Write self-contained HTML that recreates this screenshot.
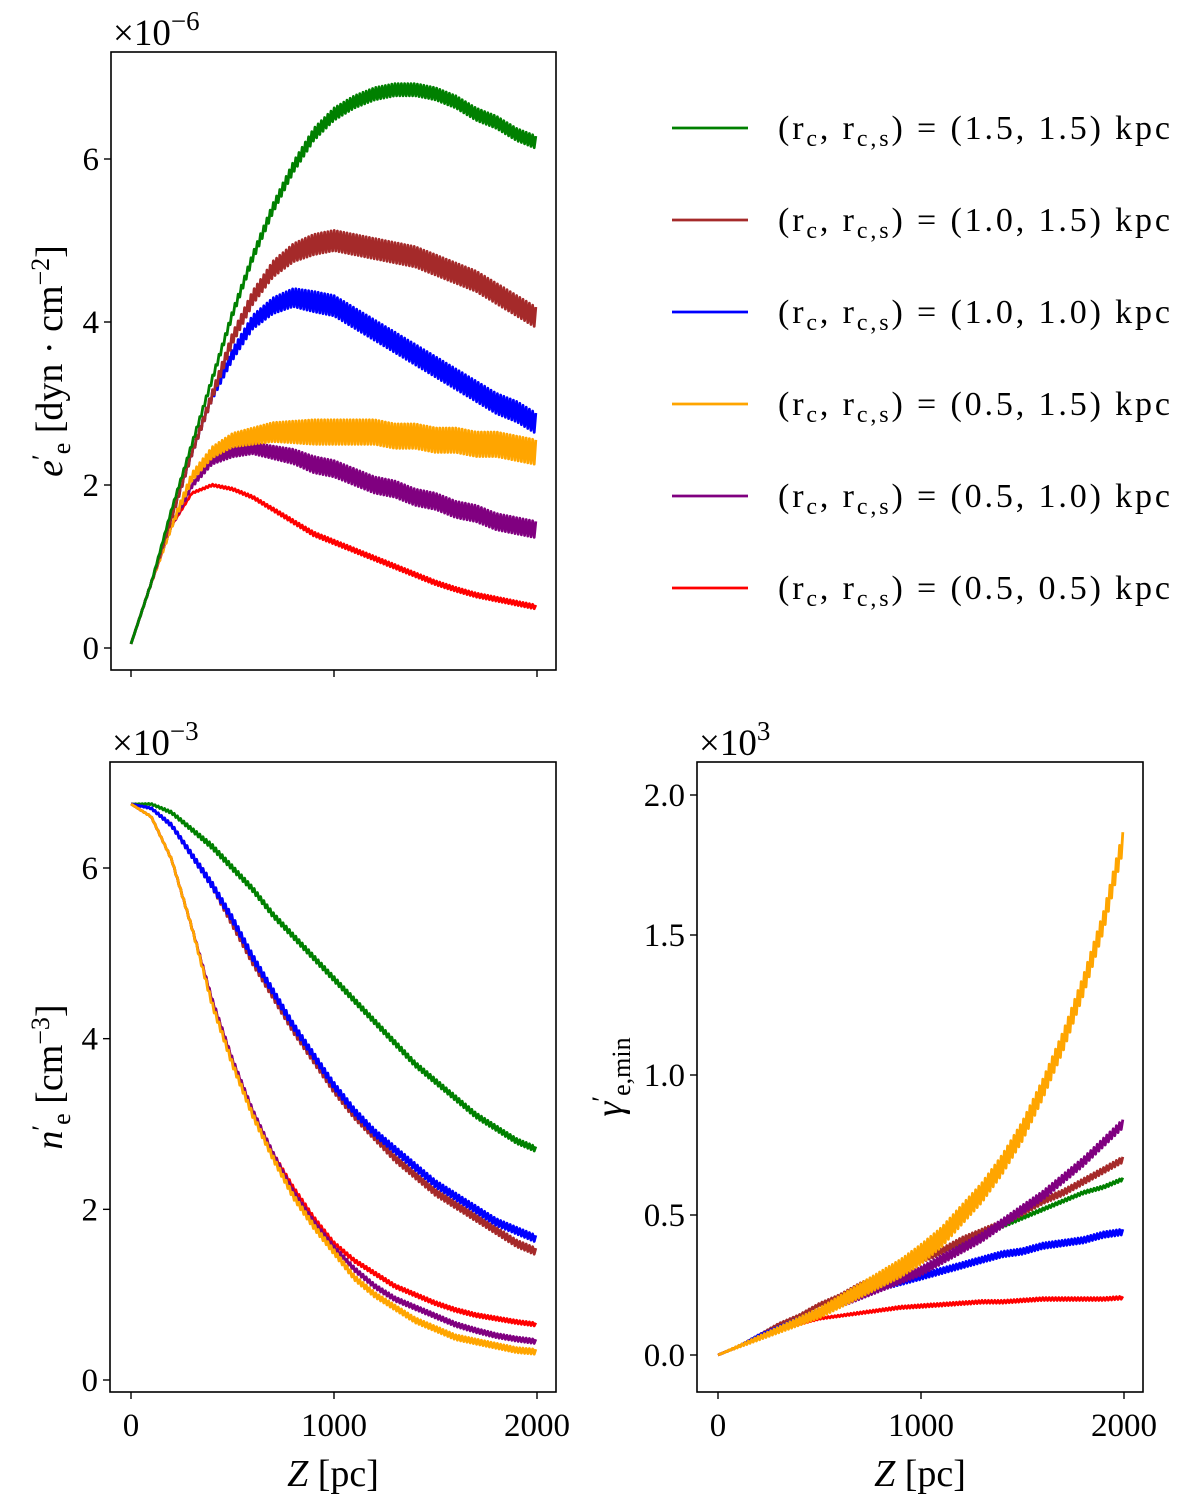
<!DOCTYPE html>
<html><head><meta charset="utf-8"><style>
body{margin:0;background:#fff}
svg{display:block;font-family:"Liberation Serif",serif}
</style></head><body>
<svg id="fig" width="1200" height="1503" viewBox="0 0 1200 1503"></svg>
<script>
const zGrid=[0,100,200,300,400,500,600,700,800,900,1000,1100,1200,1300,1400,1500,1600,1700,1800,1900,2000];
const seriesNames=["(1.5, 1.5)","(1.0, 1.5)","(1.0, 1.0)","(0.5, 1.5)","(0.5, 1.0)","(0.5, 0.5)"];
const seriesColors=["green","#a52a2a","blue","orange","purple","red"];
// top: e'_e (x1e-6)
const eGreen=[0.05,0.8,1.7,2.5,3.3,4.1,4.8,5.4,5.9,6.3,6.55,6.7,6.8,6.85,6.85,6.8,6.7,6.55,6.45,6.3,6.2];
const eBrown=[0.05,0.8,1.6,2.4,3.1,3.8,4.3,4.65,4.85,4.95,5.0,4.95,4.9,4.85,4.8,4.7,4.6,4.5,4.35,4.2,4.05];
const eBlue=[0.05,0.8,1.6,2.4,3.1,3.6,4.0,4.2,4.3,4.25,4.2,4.05,3.9,3.75,3.6,3.45,3.3,3.15,3.0,2.9,2.75];
const eOrange=[0.05,0.8,1.5,2.1,2.4,2.55,2.6,2.65,2.65,2.65,2.65,2.65,2.65,2.6,2.6,2.55,2.55,2.5,2.5,2.45,2.4];
const ePurple=[0.05,0.8,1.5,2.0,2.3,2.4,2.45,2.4,2.35,2.25,2.2,2.1,2.0,1.95,1.85,1.8,1.7,1.65,1.55,1.5,1.45];
const eRed=[0.05,0.8,1.5,1.9,2.0,1.95,1.85,1.7,1.55,1.4,1.3,1.2,1.1,1.0,0.9,0.8,0.72,0.65,0.6,0.55,0.5];
const eNoise=[0.15,0.25,0.25,0.3,0.2,0.05];
// bottom-left: n'_e (x1e-3)
const nGreen=[6.75,6.75,6.65,6.45,6.25,6.0,5.75,5.45,5.2,4.95,4.7,4.45,4.2,3.95,3.7,3.5,3.3,3.1,2.95,2.8,2.7];
const nBrown=[6.75,6.7,6.5,6.15,5.8,5.35,4.9,4.5,4.1,3.75,3.4,3.1,2.85,2.6,2.4,2.2,2.05,1.9,1.75,1.6,1.5];
const nBlue=[6.75,6.7,6.5,6.15,5.8,5.4,4.95,4.55,4.15,3.8,3.45,3.15,2.9,2.7,2.5,2.3,2.15,2.0,1.85,1.75,1.65];
const nOrange=[6.75,6.6,6.1,5.3,4.4,3.7,3.1,2.6,2.15,1.8,1.5,1.2,1.0,0.85,0.7,0.6,0.5,0.45,0.4,0.35,0.33];
const nPurple=[6.75,6.6,6.1,5.3,4.45,3.75,3.15,2.65,2.2,1.85,1.55,1.3,1.1,0.95,0.85,0.75,0.65,0.58,0.52,0.48,0.45];
const nRed=[6.75,6.6,6.1,5.3,4.45,3.75,3.15,2.65,2.25,1.9,1.6,1.4,1.25,1.1,1.0,0.9,0.82,0.76,0.72,0.68,0.65];
const nNoise=[0.06,0.08,0.08,0.06,0.05,0.04];
// bottom-right: gamma'_e,min (x1e3)
const gGreen=[0,0.03,0.07,0.11,0.14,0.18,0.21,0.25,0.28,0.31,0.34,0.37,0.4,0.43,0.46,0.49,0.52,0.55,0.58,0.6,0.63];
const gBrown=[0,0.03,0.07,0.11,0.14,0.18,0.21,0.25,0.28,0.31,0.34,0.37,0.41,0.44,0.47,0.51,0.55,0.58,0.62,0.66,0.7];
const gBlue=[0,0.03,0.07,0.1,0.13,0.16,0.19,0.22,0.24,0.26,0.28,0.3,0.32,0.34,0.36,0.37,0.39,0.4,0.41,0.43,0.44];
const gOrange=[0,0.03,0.06,0.09,0.12,0.15,0.19,0.23,0.27,0.31,0.36,0.42,0.5,0.58,0.68,0.8,0.95,1.12,1.32,1.55,1.85];
const gPurple=[0,0.03,0.06,0.09,0.12,0.15,0.18,0.21,0.24,0.27,0.3,0.34,0.38,0.42,0.47,0.52,0.57,0.63,0.69,0.76,0.83];
const gRed=[0,0.03,0.06,0.09,0.11,0.13,0.14,0.15,0.16,0.17,0.175,0.18,0.185,0.19,0.19,0.195,0.2,0.2,0.2,0.2,0.205];
const gNoise=[0.01,0.02,0.02,0.07,0.03,0.01];
const xTicks=[0,1000,2000];
const eTicks=[0,2,4,6];
const nTicks=[0,2,4,6];
const gTicks=[0,0.5,1.0,1.5,2.0];
const gTickLabels=["0.0","0.5","1.0","1.5","2.0"];

const NS="http://www.w3.org/2000/svg";
const svg=document.getElementById('fig');
function el(tag,attrs,parent,text){const e=document.createElementNS(NS,tag);for(const k in attrs)e.setAttribute(k,attrs[k]);if(text!==undefined)e.textContent=text;(parent||svg).appendChild(e);return e;}

function panel(cfg){
  const g=el('g',{});
  
  
  const X=z=>cfg.x0+(z-0)*(cfg.x2000-cfg.x0)/2000;
  const Y=v=>cfg.y0+(v-cfg.v0)*(cfg.yTop-cfg.y0)/(cfg.vTop-cfg.v0);
  cfg.order.forEach(i=>{
    const data=cfg.series[i];
    let d="";let k=0;
    for(let px=X(0);px<=X(2000)+0.01;px+=1.6){
      const z=(px-X(0))/(X(2000)-X(0))*2000;
      const j=Math.min(19,Math.floor(z/100));const t=(z-zGrid[j])/100;
      let v=data[j]*(1-t)+data[j+1]*t;
      const ramp=Math.min(1,z/cfg.rampZ);
      v+=(k%2?1:-1)*cfg.noise[i]*ramp*0.5;
      d+=(k?"L":"M")+px.toFixed(1)+","+Y(v).toFixed(1);k++;
    }
    const p=el('path',{d:d,fill:'none',stroke:seriesColors[i],'stroke-width':2.8,'stroke-linejoin':'round'},g);
    
    
  });
  const fr=el('rect',{x:cfg.bx,y:cfg.by,width:cfg.bw,height:cfg.bh,fill:'none',stroke:'#000','stroke-width':1.6},g);
  
  
  const bottom=cfg.by+cfg.bh;
  xTicks.forEach(z=>{
    el('line',{x1:X(z),x2:X(z),y1:bottom,y2:bottom+7,stroke:'#000','stroke-width':1.4},g);
    if(cfg.xLabels){const t=el('text',{x:X(z),y:bottom+44,'font-size':33,'text-anchor':'middle'},g,String(z));
      
      }
  });
  cfg.ticks.forEach((v,i)=>{
    el('line',{x1:cfg.bx-7,x2:cfg.bx,y1:Y(v),y2:Y(v),stroke:'#000','stroke-width':1.4},g);
    const t=el('text',{x:cfg.bx-12,y:Y(v)+11,'font-size':33,'text-anchor':'end'},g,cfg.tickLabels?cfg.tickLabels[i]:String(v));
    
    
  });
  const m=el('text',{x:cfg.bx+2,y:cfg.by-7,'font-size':37},g);
  m.innerHTML='×10<tspan font-size="27" dy="-15">'+cfg.exp+'</tspan>';
  
  
  if(cfg.xLabels){const t=el('text',{x:(cfg.bx+cfg.bw/2),y:bottom+94,'font-size':38,'text-anchor':'middle'},g);
    t.innerHTML='<tspan font-style="italic">Z</tspan>  [pc]';
    
    }
  const yl=el('text',{x:0,y:0,'font-size':38,'text-anchor':'middle',transform:'translate('+cfg.ylx+','+(cfg.by+cfg.bh/2)+') rotate(-90)'},g);
  yl.innerHTML=cfg.ylab;
  
  
}

panel({name:'panel-energy-density',series:[eGreen,eBrown,eBlue,eOrange,ePurple,eRed],noise:eNoise,rampZ:900,order:[5,4,3,2,1,0],
  x0:131,x2000:537,y0:648,v0:0,yTop:159,vTop:6,bx:111,by:52,bw:445,bh:618,ticks:eTicks,xLabels:false,exp:'−6',ylx:62,
  ylab:'<tspan font-style="italic">e</tspan><tspan dy="-12" font-size="26">′</tspan><tspan dy="20" font-size="26">e</tspan><tspan dy="-8"> [dyn · cm</tspan><tspan dy="-13" font-size="26">−2</tspan><tspan dy="13">]</tspan>'});
panel({name:'panel-number-density',series:[nGreen,nBrown,nBlue,nOrange,nPurple,nRed],noise:nNoise,rampZ:400,order:[0,1,2,5,4,3],
  x0:131,x2000:537,y0:1380,v0:0,yTop:868,vTop:6,bx:110,by:762,bw:446,bh:630,ticks:nTicks,xLabels:true,exp:'−3',ylx:62,
  ylab:'<tspan font-style="italic">n</tspan><tspan dy="-12" font-size="26">′</tspan><tspan dy="20" font-size="26">e</tspan><tspan dy="-8"> [cm</tspan><tspan dy="-13" font-size="26">−3</tspan><tspan dy="13">]</tspan>'});
panel({name:'panel-lorentz-factor',series:[gGreen,gBrown,gBlue,gOrange,gPurple,gRed],noise:gNoise,rampZ:1000,order:[0,1,2,5,4,3],
  x0:718,x2000:1124,y0:1355,v0:0,yTop:795,vTop:2,bx:697,by:762,bw:446,bh:630,ticks:gTicks,tickLabels:gTickLabels,xLabels:true,exp:'3',ylx:622,
  ylab:'<tspan font-style="italic">γ</tspan><tspan dy="-12" font-size="26">′</tspan><tspan dy="20" font-size="26">e,min</tspan>'});

const leg=el('g',{});


seriesNames.forEach((n,i)=>{
  const y=128+i*92;
  const l=el('line',{x1:672,x2:748,y1:y,y2:y,stroke:seriesColors[i],'stroke-width':2.8},leg);
  
  
  const t=el('text',{x:778,y:y+11,'font-size':34,textLength:392,lengthAdjust:'spacing'},leg);
  t.innerHTML='(r<tspan font-size="24" dy="7">c</tspan><tspan dy="-7">,  r</tspan><tspan font-size="24" dy="7">c,s</tspan><tspan dy="-7">) = '+n+'  kpc</tspan>';
  
  
});
</script>
</body></html>
